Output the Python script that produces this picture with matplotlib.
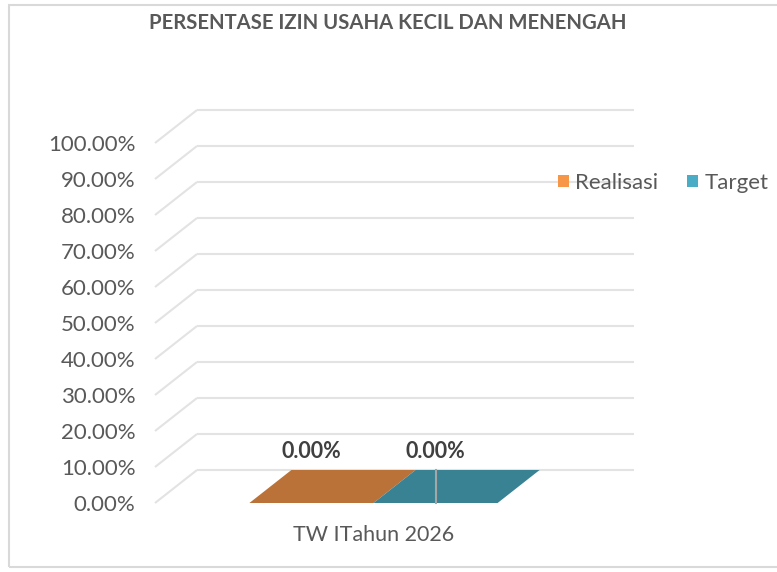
import matplotlib
matplotlib.use("Agg")
from matplotlib import pyplot as plt
from matplotlib.patches import Polygon, Patch, Rectangle

plt.rcParams['font.family'] = ['Lato', 'DejaVu Sans']

# data
title = "PERSENTASE IZIN USAHA KECIL DAN MENENGAH"
categories = ["TW ITahun 2026"]
series_names = ["Realisasi", "Target"]
realisasi = [0.0]
target = [0.0]
y_ticks = [0, 10, 20, 30, 40, 50, 60, 70, 80, 90, 100]

top_colors = ["#BA7238", "#388294"]
front_colors = ["#F79646", "#4BACC6"]
text_color = "#595959"
grid_color = "#E3E3E3"

W, H = 777, 572
fig = plt.figure(figsize=(W / 100, H / 100), dpi=100)
ax = fig.add_axes([155 / W, 69 / H, 437 / W, 360 / H])
ax.set_xlim(-0.5, 0.5)
ax.set_ylim(0, 100)
for s in ax.spines.values():
    s.set_visible(False)

# depth of the fake 3d floor, in pixels -> data units
dx_px, dy_px = 42, 33
ddx = dx_px / 437 * 1.0
ddy = dy_px / 360 * 100.0

# gridlines (diagonal on the side wall + horizontal on the back wall)
x0, x1 = ax.get_xlim()
for t in y_ticks:
    ax.plot([x0, x0 + ddx], [t, t + ddy], color=grid_color, lw=1.5,
            clip_on=False, zorder=1, solid_capstyle="butt")
    ax.plot([x0 + ddx, x1 + ddx], [t + ddy, t + ddy], color=grid_color,
            lw=1.5, clip_on=False, zorder=1, solid_capstyle="butt")

ax.set_yticks(y_ticks)
ax.set_yticklabels([f"{t:.2f}%" for t in y_ticks], fontsize=16, color=text_color)
ax.tick_params(axis="y", length=0, pad=14)
ax.set_xticks(range(len(categories)))
ax.set_xticklabels(categories, fontsize=15.5, color=text_color)
ax.tick_params(axis="x", length=0, pad=16)

# bars
bar_w = 0.284
values = [realisasi, target]
for i, vals in enumerate(values):
    for c, v in enumerate(vals):
        xl = c - bar_w + i * bar_w
        xr = xl + bar_w
        if v > 0:
            ax.bar(xl, v, width=bar_w, align="edge", color=front_colors[i], zorder=3)
            ax.add_patch(Polygon([(xr, 0), (xr + ddx, ddy), (xr + ddx, v + ddy), (xr, v)],
                                 closed=True, color=top_colors[i], zorder=2, clip_on=False))
        ax.add_patch(Polygon([(xl, v), (xr, v), (xr + ddx, v + ddy), (xl + ddx, v + ddy)],
                             closed=True, color=top_colors[i], lw=0, zorder=3, clip_on=False))
        if i == 1:
            xm = (xl + xr) / 2
            ax.plot([xm, xm], [v, v + ddy], color="#A6A6A6", lw=1.5, zorder=4, clip_on=False)
        ax.annotate(f"{v:.2f}%", xy=((xl + xr) / 2, v + ddy), xytext=(0, 13),
                    textcoords="offset points", ha="center", va="center",
                    fontsize=15.5, fontweight="bold", color="#404040")

# legend
handles = [Patch(facecolor=front_colors[i], edgecolor="none") for i in range(2)]
fig.legend(handles, series_names, loc="center left",
           bbox_to_anchor=(558 / W, 1 - 183 / H), ncol=2, frameon=False,
           fontsize=16, handlelength=0.48, handleheight=0.48, handletextpad=0.3,
           columnspacing=1.3, borderpad=0, borderaxespad=0, labelcolor=text_color)

fig.text(387.5 / W, 1 - 23 / H, title, ha="center", va="center", fontsize=14.6,
         fontweight="bold", color=text_color)

fig.patches.append(Rectangle((9 / W, 5 / H), 1.0, 562 / H, transform=fig.transFigure,
                             fill=False, edgecolor="#D9D9D9", lw=1.5))

fig.savefig("out.png", dpi=100)
